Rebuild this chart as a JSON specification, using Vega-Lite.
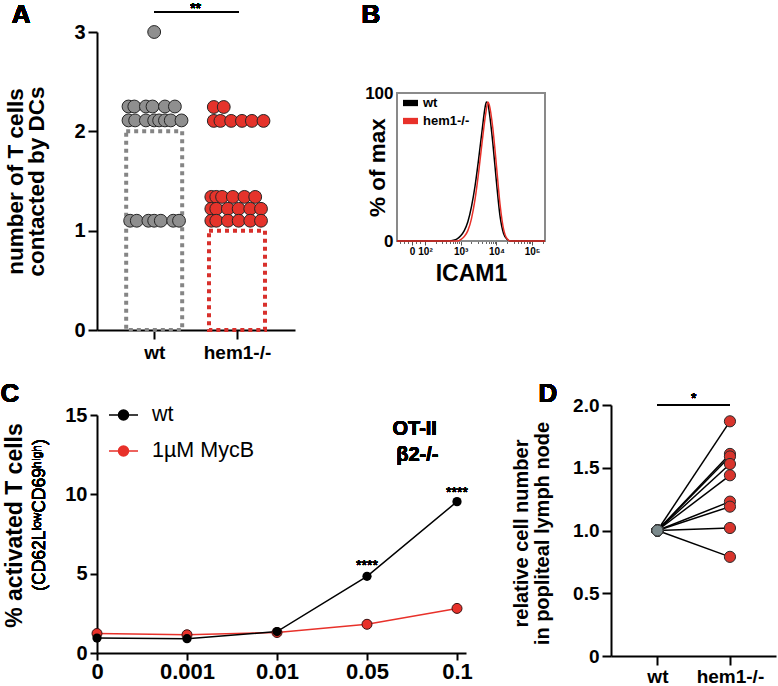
{
  "$schema": "https://vega.github.io/schema/vega-lite/v6.json",
  "background": "white",
  "width": 778,
  "height": 686,
  "padding": 0,
  "autosize": {"type": "none"},
  "config": {
    "view": {"stroke": null},
    "font": "Liberation Sans",
    "text": {"font": "Liberation Sans", "color": "black"},
    "axis": {"grid": false, "labelFont": "Liberation Sans", "titleFont": "Liberation Sans", "labelColor": "black", "titleColor": "black", "domainColor": "black", "tickColor": "black", "domainWidth": 2, "tickWidth": 2, "tickSize": 9, "labelFontWeight": "bold", "titleFontWeight": "bold", "labelFlush": false, "labelOverlap": false}
  },
  "resolve": {
    "scale": {"x": "independent", "y": "independent", "fill": "independent", "stroke": "independent"},
    "axis": {"x": "independent", "y": "independent"},
    "legend": {"fill": "independent", "stroke": "independent"}
  },
  "layer": [
    {
      "data": {"values": [
        {"group": "wt", "x": 1.0, "y": 3.0},
        {"group": "wt", "x": 0.69, "y": 2.25},
        {"group": "wt", "x": 0.76, "y": 2.25},
        {"group": "wt", "x": 0.90, "y": 2.25},
        {"group": "wt", "x": 0.98, "y": 2.25},
        {"group": "wt", "x": 1.13, "y": 2.25},
        {"group": "wt", "x": 1.25, "y": 2.25},
        {"group": "wt", "x": 0.69, "y": 2.11},
        {"group": "wt", "x": 0.77, "y": 2.11},
        {"group": "wt", "x": 0.90, "y": 2.11},
        {"group": "wt", "x": 1.0, "y": 2.11},
        {"group": "wt", "x": 1.06, "y": 2.11},
        {"group": "wt", "x": 1.13, "y": 2.11},
        {"group": "wt", "x": 1.20, "y": 2.11},
        {"group": "wt", "x": 1.33, "y": 2.11},
        {"group": "wt", "x": 0.71, "y": 1.10},
        {"group": "wt", "x": 0.79, "y": 1.10},
        {"group": "wt", "x": 0.93, "y": 1.10},
        {"group": "wt", "x": 1.0, "y": 1.10},
        {"group": "wt", "x": 1.08, "y": 1.10},
        {"group": "wt", "x": 1.23, "y": 1.10},
        {"group": "wt", "x": 1.30, "y": 1.10},
        {"group": "hem1-/-", "x": 1.72, "y": 2.245},
        {"group": "hem1-/-", "x": 1.84, "y": 2.245},
        {"group": "hem1-/-", "x": 1.72, "y": 2.105},
        {"group": "hem1-/-", "x": 1.80, "y": 2.105},
        {"group": "hem1-/-", "x": 1.93, "y": 2.105},
        {"group": "hem1-/-", "x": 2.06, "y": 2.105},
        {"group": "hem1-/-", "x": 2.18, "y": 2.105},
        {"group": "hem1-/-", "x": 2.32, "y": 2.105},
        {"group": "hem1-/-", "x": 1.69, "y": 1.34},
        {"group": "hem1-/-", "x": 1.75, "y": 1.34},
        {"group": "hem1-/-", "x": 1.82, "y": 1.34},
        {"group": "hem1-/-", "x": 1.95, "y": 1.34},
        {"group": "hem1-/-", "x": 2.09, "y": 1.34},
        {"group": "hem1-/-", "x": 2.22, "y": 1.34},
        {"group": "hem1-/-", "x": 1.69, "y": 1.22},
        {"group": "hem1-/-", "x": 1.75, "y": 1.22},
        {"group": "hem1-/-", "x": 1.89, "y": 1.22},
        {"group": "hem1-/-", "x": 2.02, "y": 1.22},
        {"group": "hem1-/-", "x": 2.16, "y": 1.22},
        {"group": "hem1-/-", "x": 2.29, "y": 1.22},
        {"group": "hem1-/-", "x": 1.69, "y": 1.10},
        {"group": "hem1-/-", "x": 1.75, "y": 1.10},
        {"group": "hem1-/-", "x": 1.89, "y": 1.10},
        {"group": "hem1-/-", "x": 2.02, "y": 1.10},
        {"group": "hem1-/-", "x": 2.16, "y": 1.10},
        {"group": "hem1-/-", "x": 2.29, "y": 1.10}
      ]},
      "layer": [
        {
          "data": {"values": [{"group": "wt", "g": 1, "median": 2}, {"group": "hem1-/-", "g": 2, "median": 1}]},
          "mark": {"type": "bar", "width": 56, "fill": "transparent", "strokeWidth": 4, "strokeDash": [4, 4], "clip": false},
          "encoding": {
            "x": {"field": "g", "type": "quantitative", "scale": {"domain": [0.37, 2.64], "range": [97, 295], "nice": false, "zero": false},
              "axis": {"orient": "bottom", "offset": -356, "values": [1, 2], "labelExpr": "datum.value == 1 ? 'wt' : 'hem1-/-'", "title": null, "labelFontSize": 19, "labelPadding": 4, "tickSize": 9}},
            "y": {"field": "median", "type": "quantitative", "scale": {"domain": [0, 3], "range": [330, 32], "nice": false},
              "axis": {"orient": "left", "offset": -97, "values": [0, 1, 2, 3], "format": "d", "title": ["number of T cells", "contacted by DCs"], "titleFontSize": 22.5, "titleLineHeight": 21.5, "titleX": -70, "titleY": 181, "labelFontSize": 20, "labelPadding": 3, "tickSize": 9}},
            "stroke": {"field": "group", "type": "nominal", "scale": {"domain": ["wt", "hem1-/-"], "range": ["#858585", "#d8302c"]}, "legend": null}
          }
        },
        {
          "mark": {"type": "circle", "size": 165, "opacity": 1, "stroke": "#262626", "strokeWidth": 1, "clip": false},
          "encoding": {
            "x": {"field": "x", "type": "quantitative"},
            "y": {"field": "y", "type": "quantitative"},
            "fill": {"field": "group", "type": "nominal", "scale": {"domain": ["wt", "hem1-/-"], "range": ["#8f8f8f", "#e5332b"]}, "legend": null}
          }
        },
        {
          "mark": {"type": "rule", "strokeWidth": 1.5, "color": "black", "clip": false},
          "encoding": {"x": {"datum": 1}, "x2": {"datum": 2.02}, "y": {"datum": 3.2}}
        },
        {
          "mark": {"type": "text", "fontSize": 14, "text": "**", "clip": false},
          "encoding": {"x": {"datum": 1.5}, "y": {"datum": 3.235}}
        },
        {
          "mark": {"type": "text", "fontSize": 26, "fontWeight": "bold", "text": "A", "clip": false},
          "encoding": {"x": {"datum": -0.605}, "y": {"datum": 3.17}}
        }
      ]
    },
    {
      "data": {"values": [
        {"series": "wt", "t": 1.216, "pct": 0},
        {"series": "wt", "t": 2.6, "pct": 0},
        {"series": "wt", "t": 2.8, "pct": 0.6},
        {"series": "wt", "t": 2.9, "pct": 1.5},
        {"series": "wt", "t": 3.0, "pct": 3.5},
        {"series": "wt", "t": 3.1, "pct": 7},
        {"series": "wt", "t": 3.2, "pct": 13},
        {"series": "wt", "t": 3.3, "pct": 23},
        {"series": "wt", "t": 3.4, "pct": 37},
        {"series": "wt", "t": 3.5, "pct": 55},
        {"series": "wt", "t": 3.6, "pct": 75},
        {"series": "wt", "t": 3.68, "pct": 90},
        {"series": "wt", "t": 3.72, "pct": 94},
        {"series": "wt", "t": 3.76, "pct": 93},
        {"series": "wt", "t": 3.8, "pct": 87},
        {"series": "wt", "t": 3.9, "pct": 66},
        {"series": "wt", "t": 4.0, "pct": 40},
        {"series": "wt", "t": 4.1, "pct": 17},
        {"series": "wt", "t": 4.2, "pct": 5},
        {"series": "wt", "t": 4.3, "pct": 1},
        {"series": "wt", "t": 4.4, "pct": 0},
        {"series": "wt", "t": 5.36, "pct": 0},
        {"series": "hem1-/-", "t": 1.216, "pct": 0},
        {"series": "hem1-/-", "t": 2.9, "pct": 0},
        {"series": "hem1-/-", "t": 3.0, "pct": 1},
        {"series": "hem1-/-", "t": 3.1, "pct": 3},
        {"series": "hem1-/-", "t": 3.2, "pct": 7},
        {"series": "hem1-/-", "t": 3.3, "pct": 15},
        {"series": "hem1-/-", "t": 3.4, "pct": 28},
        {"series": "hem1-/-", "t": 3.5, "pct": 46},
        {"series": "hem1-/-", "t": 3.6, "pct": 67},
        {"series": "hem1-/-", "t": 3.7, "pct": 86},
        {"series": "hem1-/-", "t": 3.76, "pct": 94},
        {"series": "hem1-/-", "t": 3.8, "pct": 92},
        {"series": "hem1-/-", "t": 3.9, "pct": 76},
        {"series": "hem1-/-", "t": 4.0, "pct": 51},
        {"series": "hem1-/-", "t": 4.1, "pct": 25},
        {"series": "hem1-/-", "t": 4.2, "pct": 8},
        {"series": "hem1-/-", "t": 4.3, "pct": 1.5},
        {"series": "hem1-/-", "t": 4.4, "pct": 0},
        {"series": "hem1-/-", "t": 5.36, "pct": 0}
      ]},
      "layer": [
        {
          "mark": {"type": "rect", "fill": "transparent", "stroke": "#8a8a8a", "strokeWidth": 1.2, "clip": false},
          "encoding": {
            "x": {"datum": 1.216, "type": "quantitative", "scale": {"domain": [1.216, 5.36], "range": [397, 545], "nice": false, "zero": false},
              "axis": {"orient": "bottom", "offset": -445, "values": [1.64, 2, 3, 4, 5], "labelExpr": "datum.value < 1.9 ? '0' : datum.value < 2.5 ? '10²' : datum.value < 3.5 ? '10³' : datum.value < 4.5 ? '10⁴' : '10⁵'", "title": "ICAM1", "titleFontSize": 23, "titlePadding": 6, "labelFontSize": 10, "domain": false, "tickSize": 4, "tickWidth": 1, "tickColor": "#555555", "labelPadding": 1}},
            "x2": {"datum": 5.36},
            "y": {"datum": 0, "type": "quantitative", "scale": {"domain": [0, 100], "range": [241, 93], "nice": false},
              "axis": {"orient": "left", "offset": -397, "values": [0, 100], "format": "d", "title": "% of max", "titleFontSize": 22.5, "titleX": -8, "titleY": 167, "labelFontSize": 17, "domain": false, "ticks": false, "labelPadding": 4}},
            "y2": {"datum": 100}
          }
        },
        {
          "transform": [{"filter": "datum.series == 'wt'"}],
          "mark": {"type": "line", "strokeWidth": 1.5, "color": "black", "interpolate": "monotone", "clip": false},
          "encoding": {
            "x": {"field": "t", "type": "quantitative"},
            "y": {"field": "pct", "type": "quantitative"}
          }
        },
        {
          "transform": [{"filter": "datum.series != 'wt'"}],
          "mark": {"type": "line", "strokeWidth": 1.5, "color": "#e8312a", "interpolate": "monotone", "clip": false},
          "encoding": {
            "x": {"field": "t", "type": "quantitative"},
            "y": {"field": "pct", "type": "quantitative"}
          }
        },
        {
          "transform": [{"filter": "false"}],
          "mark": {"type": "square"},
          "encoding": {
            "x": {"field": "t", "type": "quantitative"},
            "y": {"field": "pct", "type": "quantitative"},
            "fill": {"field": "series", "type": "nominal", "scale": {"domain": ["wt", "hem1-/-"], "range": ["black", "#e8312a"]},
              "legend": {"title": null, "orient": "none", "legendX": 403, "legendY": 95.5, "symbolType": "M-1,-0.42H1V0.42H-1Z", "symbolSize": 225, "symbolStrokeWidth": 0, "symbolOpacity": 1, "labelFontSize": 13, "labelFontWeight": "bold", "labelFont": "Liberation Sans", "labelColor": "black", "labelOffset": 5, "rowPadding": 3, "padding": 0}}
          }
        },
        {
          "mark": {"type": "text", "fontSize": 26, "fontWeight": "bold", "text": "B", "clip": false},
          "encoding": {"x": {"datum": 0.488}, "y": {"datum": 152.5}}
        }
      ]
    },
    {
      "data": {"values": [{"series": "wt", "t": 1.216, "pct": 0}]},
      "mark": {"type": "point", "opacity": 0},
      "encoding": {
        "x": {"field": "t", "type": "quantitative", "scale": {"domain": [1.216, 5.36], "range": [397, 545], "nice": false, "zero": false},
          "axis": {"orient": "bottom", "offset": -445, "values": [1.3, 1.42, 1.53, 1.75, 1.86, 2.3, 2.48, 2.6, 2.7, 2.78, 2.85, 2.9, 2.95, 3.3, 3.48, 3.6, 3.7, 3.78, 3.85, 3.9, 3.95, 4.3, 4.48, 4.6, 4.7, 4.78, 4.85, 4.9, 4.95, 5.3], "labels": false, "title": null, "domain": false, "tickSize": 2.5, "tickWidth": 1, "tickColor": "#666666"}},
        "y": {"field": "pct", "type": "quantitative", "scale": {"domain": [0, 100], "range": [241, 93], "nice": false}, "axis": null}
      }
    },
    {
      "data": {"values": [
        {"series": "wt", "dose": 0, "pct": 0.94},
        {"series": "wt", "dose": 1, "pct": 0.90},
        {"series": "wt", "dose": 2, "pct": 1.35},
        {"series": "wt", "dose": 3, "pct": 4.83},
        {"series": "wt", "dose": 4, "pct": 9.54},
        {"series": "1µM MycB", "dose": 0, "pct": 1.23},
        {"series": "1µM MycB", "dose": 1, "pct": 1.15},
        {"series": "1µM MycB", "dose": 2, "pct": 1.29},
        {"series": "1µM MycB", "dose": 3, "pct": 1.81},
        {"series": "1µM MycB", "dose": 4, "pct": 2.81}
      ]},
      "layer": [
        {
          "transform": [{"filter": "datum.series != 'wt'"}],
          "mark": {"type": "line", "strokeWidth": 1.5, "color": "#e8312a", "clip": false},
          "encoding": {
            "x": {"field": "dose", "type": "quantitative", "scale": {"domain": [0, 4.1], "range": [97, 466], "nice": false, "zero": false},
              "axis": {"orient": "bottom", "offset": -33, "values": [0, 1, 2, 3, 4], "labelExpr": "['0','0.001','0.01','0.05','0.1'][datum.value]", "title": null, "labelFontSize": 22, "tickSize": 7, "labelPadding": 1}},
            "y": {"field": "pct", "type": "quantitative", "scale": {"domain": [0, 15], "range": [653, 415], "nice": false},
              "axis": {"orient": "left", "offset": -97, "values": [0, 5, 10, 15], "format": "d", "title": "% activated T cells", "titleFontSize": 23, "titleX": -71, "titleY": 525, "labelFontSize": 20, "tickSize": 7, "labelPadding": 3}}
          }
        },
        {
          "transform": [{"filter": "datum.series == 'wt'"}],
          "mark": {"type": "line", "strokeWidth": 1.5, "color": "black", "clip": false},
          "encoding": {"x": {"field": "dose", "type": "quantitative"}, "y": {"field": "pct", "type": "quantitative"}}
        },
        {
          "transform": [{"filter": "datum.series != 'wt'"}],
          "mark": {"type": "circle", "size": 100, "opacity": 1, "fill": "#e8312a", "stroke": "#3a1010", "strokeWidth": 1, "clip": false},
          "encoding": {"x": {"field": "dose", "type": "quantitative"}, "y": {"field": "pct", "type": "quantitative"}}
        },
        {
          "transform": [{"filter": "datum.series == 'wt'"}],
          "mark": {"type": "circle", "size": 85, "opacity": 1, "fill": "black", "clip": false},
          "encoding": {"x": {"field": "dose", "type": "quantitative"}, "y": {"field": "pct", "type": "quantitative"}}
        },
        {
          "transform": [{"filter": "false"}],
          "mark": {"type": "point", "filled": true},
          "encoding": {
            "x": {"field": "dose", "type": "quantitative"},
            "y": {"field": "pct", "type": "quantitative"},
            "fill": {"field": "series", "type": "nominal", "scale": {"domain": ["wt", "1µM MycB"], "range": ["black", "#e8312a"]},
              "legend": {"title": null, "orient": "none", "legendX": 108, "legendY": 399.5, "symbolType": "M-1,0H1M0.345,0A0.345,0.345,0,1,1,-0.345,0A0.345,0.345,0,1,1,0.345,0Z", "symbolSize": 841, "symbolStrokeWidth": 1.5, "symbolOpacity": 1, "labelFontSize": 21.5, "labelFontWeight": "normal", "labelFont": "Liberation Sans", "labelColor": "black", "labelOffset": 13, "rowPadding": 10, "padding": 0}},
            "stroke": {"field": "series", "type": "nominal", "scale": {"domain": ["wt", "1µM MycB"], "range": ["black", "#e8312a"]},
              "legend": {"title": null, "orient": "none", "legendX": 108, "legendY": 399.5, "symbolType": "M-1,0H1M0.345,0A0.345,0.345,0,1,1,-0.345,0A0.345,0.345,0,1,1,0.345,0Z", "symbolSize": 841, "symbolStrokeWidth": 1.5, "symbolOpacity": 1, "labelFontSize": 21.5, "labelFontWeight": "normal", "labelFont": "Liberation Sans", "labelColor": "black", "labelOffset": 13, "rowPadding": 10, "padding": 0}}
          }
        },
        {
          "mark": {"type": "text", "fontSize": 14, "text": "****", "clip": false},
          "encoding": {"x": {"datum": 3}, "y": {"datum": 5.48}}
        },
        {
          "mark": {"type": "text", "fontSize": 14, "text": "****", "clip": false},
          "encoding": {"x": {"datum": 4}, "y": {"datum": 10.08}}
        },
        {
          "mark": {"type": "text", "fontSize": 20, "fontWeight": "bold", "text": "OT-II", "clip": false},
          "encoding": {"x": {"datum": 3.53}, "y": {"datum": 14.1}}
        },
        {
          "mark": {"type": "text", "fontSize": 20, "fontWeight": "bold", "text": "β2-/-", "clip": false},
          "encoding": {"x": {"datum": 3.56}, "y": {"datum": 12.5}}
        },
        {
          "mark": {"type": "text", "fontSize": 17.5, "text": "(CD62LˡᵒʷCD69ʰⁱᵍʰ)", "angle": 270, "clip": false},
          "encoding": {"x": {"datum": -0.633}, "y": {"datum": 8.7}}
        },
        {
          "mark": {"type": "text", "fontSize": 26, "fontWeight": "bold", "text": "C", "clip": false},
          "encoding": {"x": {"datum": -0.967}, "y": {"datum": 16.3}}
        }
      ]
    },
    {
      "data": {"values": [
        {"pair": 1, "group": "wt", "g": 1, "value": 1.0}, {"pair": 1, "group": "hem1-/-", "g": 2, "value": 1.87},
        {"pair": 2, "group": "wt", "g": 1, "value": 1.0}, {"pair": 2, "group": "hem1-/-", "g": 2, "value": 1.61},
        {"pair": 3, "group": "wt", "g": 1, "value": 1.0}, {"pair": 3, "group": "hem1-/-", "g": 2, "value": 1.59},
        {"pair": 4, "group": "wt", "g": 1, "value": 1.0}, {"pair": 4, "group": "hem1-/-", "g": 2, "value": 1.53},
        {"pair": 5, "group": "wt", "g": 1, "value": 1.0}, {"pair": 5, "group": "hem1-/-", "g": 2, "value": 1.44},
        {"pair": 6, "group": "wt", "g": 1, "value": 1.0}, {"pair": 6, "group": "hem1-/-", "g": 2, "value": 1.23},
        {"pair": 7, "group": "wt", "g": 1, "value": 1.0}, {"pair": 7, "group": "hem1-/-", "g": 2, "value": 1.19},
        {"pair": 8, "group": "wt", "g": 1, "value": 1.0}, {"pair": 8, "group": "hem1-/-", "g": 2, "value": 1.02},
        {"pair": 9, "group": "wt", "g": 1, "value": 1.0}, {"pair": 9, "group": "hem1-/-", "g": 2, "value": 0.79}
      ]},
      "layer": [
        {
          "mark": {"type": "line", "color": "black", "strokeWidth": 1.5, "clip": false},
          "encoding": {
            "x": {"field": "g", "type": "quantitative", "scale": {"domain": [0.36, 2.635], "range": [611, 776], "nice": false, "zero": false},
              "axis": {"orient": "bottom", "offset": -30, "values": [1, 2], "labelExpr": "datum.value == 1 ? 'wt' : 'hem1-/-'", "title": null, "labelFontSize": 19, "labelPadding": 2, "tickSize": 9}},
            "y": {"field": "value", "type": "quantitative", "scale": {"domain": [0, 2], "range": [656, 405], "nice": false},
              "axis": {"orient": "left", "offset": -611, "values": [0, 0.5, 1, 1.5, 2], "labelExpr": "datum.value == 0 ? '0' : format(datum.value, '.1f')", "title": ["relative cell number", "in popliteal lymph node"], "titleFontSize": 20, "titleLineHeight": 21, "titleX": -80, "titleY": 533, "labelFontSize": 19, "labelPadding": 3, "tickSize": 9}},
            "detail": {"field": "pair", "type": "nominal"}
          }
        },
        {
          "transform": [{"filter": "datum.group == 'wt'"}],
          "mark": {"type": "circle", "size": 125, "opacity": 1, "fill": "#7b8a8c", "stroke": "#333333", "strokeWidth": 1, "clip": false},
          "encoding": {"x": {"field": "g", "type": "quantitative"}, "y": {"field": "value", "type": "quantitative"}}
        },
        {
          "transform": [{"filter": "datum.group != 'wt'"}],
          "mark": {"type": "circle", "size": 125, "opacity": 1, "fill": "#d8342c", "stroke": "#2a2a2a", "strokeWidth": 1, "clip": false},
          "encoding": {"x": {"field": "g", "type": "quantitative"}, "y": {"field": "value", "type": "quantitative"}}
        },
        {
          "mark": {"type": "rule", "strokeWidth": 1.5, "color": "black", "clip": false},
          "encoding": {"x": {"datum": 1}, "x2": {"datum": 2}, "y": {"datum": 2.0}}
        },
        {
          "mark": {"type": "text", "fontSize": 14, "text": "*", "clip": false},
          "encoding": {"x": {"datum": 1.5}, "y": {"datum": 2.048}}
        },
        {
          "mark": {"type": "text", "fontSize": 26, "fontWeight": "bold", "text": "D", "clip": false},
          "encoding": {"x": {"datum": -0.509}, "y": {"datum": 2.088}}
        }
      ]
    }
  ]
}
